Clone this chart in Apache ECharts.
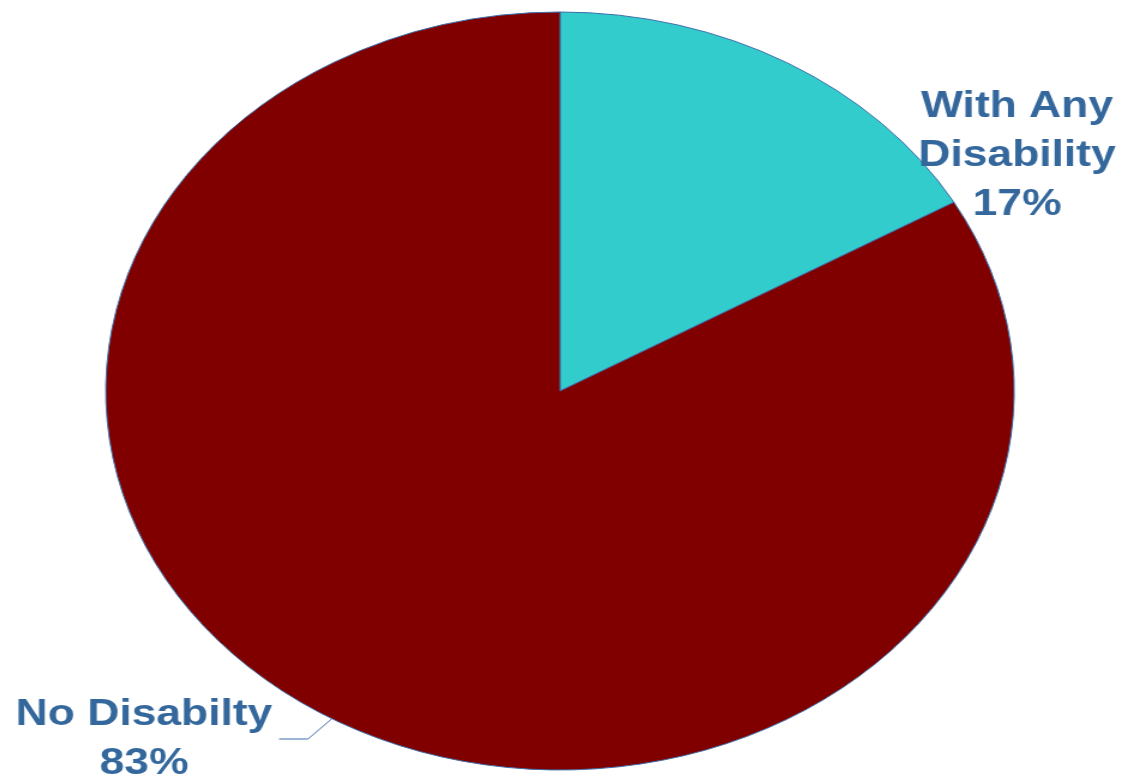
<!DOCTYPE html>
<html>
<head>
<meta charset="utf-8">
<script src="https://cdn.jsdelivr.net/npm/echarts@6/dist/echarts.min.js"></script>
<style>
html,body{margin:0;padding:0;background:#fff;}
#wrap{position:relative;width:1124px;height:779px;overflow:hidden;}
#pie{position:absolute;left:180px;top:11px;width:760px;height:760px;transform:scaleX(1.1985);transform-origin:50% 50%;}
#labels{position:absolute;left:0;top:0;width:937px;height:779px;pointer-events:none;transform:scaleX(1.2);transform-origin:0 0;}
</style>
</head>
<body>
<div id="wrap"><div id="pie"></div><div id="labels"></div></div>
<script>
var categories = ['With Any Disability', 'No Disabilty'];
var labelLines = [['With Any', 'Disability'], ['No Disabilty']];
var values = [16.7, 83.3];
var colors = ['#33CCCC', '#800000'];

var pieChart = echarts.init(document.getElementById('pie'));
pieChart.setOption({
  animation: false,
  series: [{
    type: 'pie',
    center: ['50%', '50%'],
    radius: [0, 379],
    startAngle: 90,
    clockwise: true,
    label: { show: false },
    labelLine: { show: false },
    itemStyle: { borderColor: '#3C6EA8', borderWidth: 1 },
    emphasis: { disabled: true },
    data: categories.map(function (c, i) {
      return { name: c, value: values[i], itemStyle: { color: colors[i] } };
    })
  }]
});

// ellipse geometry of the stretched pie (for the leader line)
var cx = 560, cy = 390.5, rx = 455, ry = 379;
var total = values.reduce(function (a, b) { return a + b; }, 0);
var acc = 0, mids = [];
values.forEach(function (v) { mids.push((acc + v / 2) / total * 2 * Math.PI); acc += v; });
function edge(a) { return [cx + rx * Math.sin(a), cy - ry * Math.cos(a)]; }

var SX = 1.2; // label layer horizontal stretch
function sx(x) { return x / SX; }
var txtColor = '#34679C';
function pct(i) { return Math.round(values[i] / total * 100) + '%'; }
function textStyle(x, y, str) {
  return {
    x: sx(x), y: y, text: str, fill: txtColor,
    fontFamily: 'Liberation Sans', fontWeight: 'bold', fontSize: 37,
    lineHeight: 49, align: 'center', verticalAlign: 'top'
  };
}

var e1 = edge(mids[1]);
var labelsChart = echarts.init(document.getElementById('labels'));
labelsChart.setOption({
  animation: false,
  graphic: [
    { type: 'text', z: 10, style: textStyle(1017, 82, labelLines[0].concat([pct(0)]).join('\n')) },
    { type: 'text', z: 10, style: textStyle(144, 690, labelLines[1].concat([pct(1)]).join('\n')) },
    {
      type: 'polyline', z: 9,
      shape: { points: [[sx(279), 739], [sx(308), 739], [sx(e1[0]), e1[1]]] },
      style: { stroke: '#3C6EA8', lineWidth: 1, fill: null }
    }
  ]
});
</script>
</body>
</html>
